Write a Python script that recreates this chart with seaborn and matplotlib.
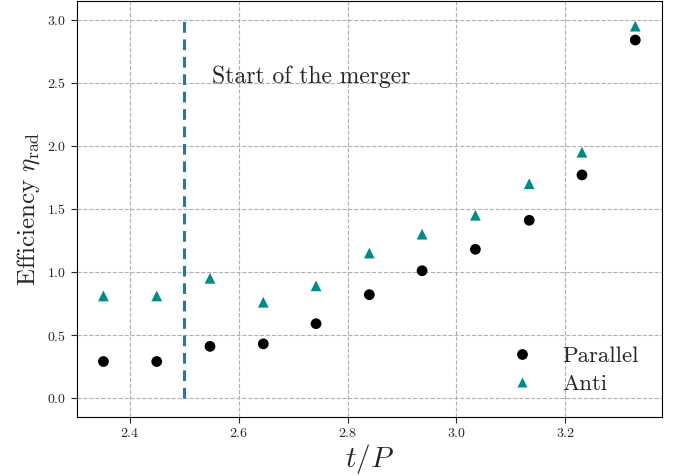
import numpy as np
import pandas as pd
import matplotlib
matplotlib.use("Agg")
import matplotlib.pyplot as plt
import seaborn as sns

# ====================================
# DATA
# ====================================
t_over_p = [2.351, 2.449, 2.547, 2.645, 2.742, 2.840, 2.937, 3.035, 3.134, 3.231, 3.329]
eff_parallel = [0.29, 0.29, 0.41, 0.43, 0.59, 0.82, 1.01, 1.18, 1.41, 1.77, 2.84]
eff_anti = [0.81, 0.81, 0.95, 0.76, 0.89, 1.15, 1.30, 1.45, 1.70, 1.95, 2.95]
merger_t = 2.5
merger_y = [0.0, 3.0]

df = pd.DataFrame({
    "t": t_over_p * 2,
    "eff": eff_parallel + eff_anti,
    "run": ["Parallel"] * len(t_over_p) + ["Anti"] * len(t_over_p),
})

# ====================================
# STYLE
# ====================================
sns.set_style("ticks")
plt.rcParams["font.family"] = ["cmr10", "DejaVu Serif"]
plt.rcParams["mathtext.fontset"] = "cm"
plt.rcParams["axes.formatter.use_mathtext"] = True

fig, ax = plt.subplots(figsize=(6.74, 4.76), dpi=100)

sns.scatterplot(
    data=df,
    x="t",
    y="eff",
    hue="run",
    style="run",
    palette={"Parallel": "black", "Anti": "darkcyan"},
    markers={"Parallel": "o", "Anti": "^"},
    s=60,
    edgecolor="none",
    ax=ax,
    zorder=3,
)

# start of the merger
ax.plot([merger_t, merger_t], merger_y, color="#1f77b4", linestyle="--", linewidth=2.2, dashes=(3.5, 2.2))
ax.text(2.55, 2.5, "Start of the merger", fontsize=17)

ax.grid(True, linestyle="--", color="#b0b0b0", linewidth=0.8)
ax.set_axisbelow(True)
ax.set_xticks([2.4, 2.6, 2.8, 3.0, 3.2])
ax.set_yticks([0.0, 0.5, 1.0, 1.5, 2.0, 2.5, 3.0])
ax.tick_params(labelsize=10, direction="out", length=4)

ax.set_xlabel("$t/P$", fontsize=21, labelpad=1)
ax.set_ylabel(r"Efficiency $\eta_{\rm rad}$", fontsize=18)

for spine in ax.spines.values():
    spine.set_visible(True)
    spine.set_color("black")

handles, labels = ax.get_legend_handles_labels()
ax.legend(handles=handles, labels=labels, loc="lower right", fontsize=16.5,
          frameon=False, handletextpad=0.75, borderaxespad=0.6, labelspacing=0.35,
          markerscale=1.0)

fig.subplots_adjust(left=0.114, right=0.982, top=0.998, bottom=0.124)
fig.savefig("out.png", dpi=100)
